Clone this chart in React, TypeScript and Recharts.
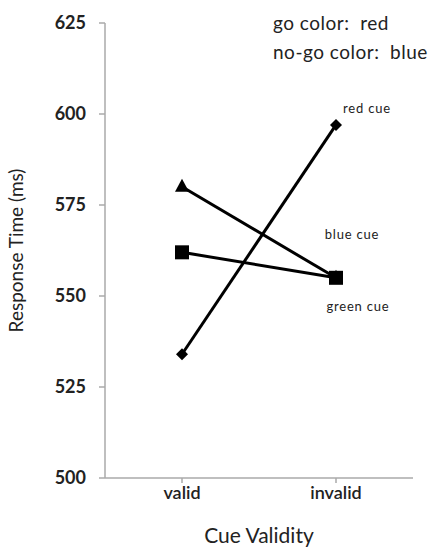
import { LineChart, Line, XAxis, YAxis, Label } from 'recharts';

const categories = ['valid', 'invalid'];
const redCue = [534, 597];
const blueCue = [580, 555];
const greenCue = [562, 555];
const yTicks = [500, 525, 550, 575, 600, 625];

const data = categories.map((c, i) => ({
  cue: c,
  red: redCue[i],
  blue: blueCue[i],
  green: greenCue[i],
}));

const FONT = 'Lato, "Open Sans", sans-serif';

function Diamond(props: any) {
  const { cx, cy } = props;
  const r = 6;
  return <polygon points={`${cx},${cy - r} ${cx + r},${cy} ${cx},${cy + r} ${cx - r},${cy}`} fill="#000" />;
}

function Square(props: any) {
  const { cx, cy } = props;
  return <rect x={cx - 7} y={cy - 7} width={14} height={14} fill="#000" />;
}

function Triangle(props: any) {
  const { cx, cy } = props;
  return <polygon points={`${cx},${cy - 8} ${cx + 7},${cy + 5} ${cx - 7},${cy + 5}`} fill="#000" />;
}

function endLabel(text: string, dx: number, dy: number) {
  return (props: any) => {
    const { x, y, index } = props;
    if (index !== 1) return null;
    return (
      <text x={x + dx} y={y + dy} textAnchor="middle" fontSize={13} fontFamily={FONT} fill="#222" letterSpacing={0.8}>
        {text}
      </text>
    );
  };
}

export default function App() {
  return (
    <div style={{ position: 'absolute', left: 0, top: 0, width: 431, height: 547, overflow: 'hidden', background: '#fff' }}>
      <div style={{ position: 'absolute', left: 273, top: 8, fontFamily: FONT, fontSize: 19, color: '#222', whiteSpace: 'nowrap', lineHeight: '29px', letterSpacing: 0.5 }}>
        <div>go color:&nbsp; red</div>
        <div>no-go color:&nbsp; blue</div>
      </div>
      <LineChart width={431} height={547} data={data} margin={{ top: 23, right: 18, left: 0, bottom: 0 }}>
        <XAxis
          dataKey="cue"
          height={69}
          padding={{ left: 77, right: 77 }}
          stroke="#aaa"
          strokeWidth={1.5}
          tickSize={5}
          tickMargin={3}
          tick={{ fill: '#222', fontSize: 18, fontFamily: FONT, fontWeight: 600 }}
        >
          <Label value="Cue Validity" position="insideBottom" offset={4} style={{ fill: '#222', fontSize: 21, fontFamily: FONT }} />
        </XAxis>
        <YAxis
          domain={[500, 625]}
          ticks={yTicks}
          width={105}
          stroke="#aaa"
          strokeWidth={1.5}
          tickSize={6}
          tickMargin={13}
          tick={{ fill: '#222', fontSize: 18, fontFamily: FONT, fontWeight: 700 }}
        >
          <Label value="Response Time (ms)" angle={-90} position="insideLeft" offset={16} style={{ fill: '#222', fontSize: 19, fontFamily: FONT, textAnchor: 'middle' }} />
        </YAxis>
        <Line dataKey="red" stroke="#000" strokeWidth={3} dot={<Diamond />} activeDot={false} isAnimationActive={false} label={endLabel('red cue', 31, -12)} />
        <Line dataKey="blue" stroke="#000" strokeWidth={3} dot={<Triangle />} activeDot={false} isAnimationActive={false} label={endLabel('blue cue', 16, -39)} />
        <Line dataKey="green" stroke="#000" strokeWidth={3} dot={<Square />} activeDot={false} isAnimationActive={false} label={endLabel('green cue', 22, 33)} />
      </LineChart>
    </div>
  );
}
